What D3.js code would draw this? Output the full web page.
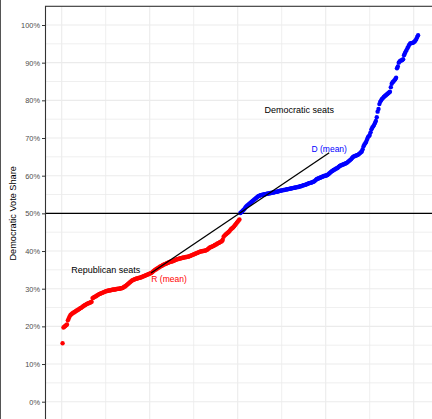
<!DOCTYPE html>
<html>
<head>
<meta charset="utf-8">
<script src="https://cdn.jsdelivr.net/npm/d3@7/dist/d3.min.js"></script>
<style>
  html, body { margin: 0; padding: 0; background: #ffffff; }
  svg { display: block; font-family: "Liberation Sans", Arial, Helvetica, sans-serif; }
</style>
</head>
<body>
<svg id="chart" width="432" height="419"></svg>
<script>
// Democratic vote share (%) in seats won by Republicans, sorted ascending
const republicanSeats = [
  15.5, 19.7, 19.9, 20.1, 20.3, 20.5, 21.6, 22.1, 22.6, 23.0,
  23.2, 23.4, 23.6, 23.7, 23.9, 24.0, 24.2, 24.3, 24.5, 24.6,
  24.8, 24.9, 25.1, 25.3, 25.4, 25.6, 25.7, 25.9, 26.0, 26.1,
  26.2, 26.3, 26.4, 26.5, 27.5, 27.6, 27.8, 27.9, 28.0, 28.2,
  28.3, 28.5, 28.6, 28.7, 28.8, 28.9, 29.0, 29.1, 29.2, 29.3,
  29.4, 29.4, 29.5, 29.5, 29.6, 29.6, 29.7, 29.7, 29.8, 29.8,
  29.8, 29.9, 29.9, 30.0, 30.0, 30.0, 30.1, 30.1, 30.2, 30.3,
  30.5, 30.6, 30.8, 31.0, 31.2, 31.4, 31.6, 31.8, 32.0, 32.2,
  32.3, 32.4, 32.5, 32.6, 32.7, 32.7, 32.8, 32.9, 32.9, 33.0,
  33.1, 33.2, 33.3, 33.4, 33.5, 33.6, 33.7, 33.8, 33.9, 34.0,
  34.1, 34.2, 34.4, 34.6, 34.8, 35.0, 35.1, 35.3, 35.4, 35.6,
  35.7, 35.9, 36.0, 36.1, 36.3, 36.4, 36.5, 36.6, 36.7, 36.8,
  36.9, 37.0, 37.1, 37.2, 37.2, 37.3, 37.4, 37.5, 37.6, 37.7,
  37.8, 37.9, 37.9, 38.0, 38.1, 38.1, 38.2, 38.2, 38.3, 38.3,
  38.4, 38.4, 38.5, 38.5, 38.6, 38.7, 38.8, 38.9, 39.0, 39.1,
  39.2, 39.3, 39.4, 39.5, 39.6, 39.7, 39.8, 39.9, 39.9, 40.0,
  40.0, 40.1, 40.1, 40.2, 40.3, 40.5, 40.7, 40.9, 41.0, 41.1,
  41.2, 41.3, 41.4, 41.6, 41.7, 41.8, 42.0, 42.1, 42.2, 42.4,
  42.5, 42.6, 43.0, 43.8, 44.1, 44.3, 44.5, 44.7, 44.9, 45.1,
  45.4, 45.7, 45.9, 46.1, 46.3, 46.6, 46.9, 47.2, 47.5, 47.8,
  48.1, 48.4
];

// Democratic vote share (%) in seats won by Democrats, sorted ascending
const democraticSeats = [
  50.1, 50.3, 50.5, 50.8, 51.0, 51.3, 51.6, 51.9,
  52.1, 52.3, 52.5, 52.7, 52.9, 53.1, 53.3, 53.5, 53.7, 53.9,
  54.1, 54.3, 54.5, 54.6, 54.7, 54.8, 54.9, 54.9, 55.0, 55.0,
  55.1, 55.1, 55.2, 55.2, 55.3, 55.3, 55.4, 55.4, 55.5, 55.5,
  55.6, 55.6, 55.7, 55.7, 55.8, 55.8, 55.9, 56.0, 56.0, 56.1,
  56.1, 56.2, 56.2, 56.3, 56.3, 56.4, 56.4, 56.5, 56.5, 56.6,
  56.6, 56.7, 56.7, 56.8, 56.8, 56.9, 56.9, 57.0, 57.0, 57.1,
  57.2, 57.2, 57.3, 57.4, 57.5, 57.5, 57.6, 57.7, 57.8, 57.9,
  58.0, 58.1, 58.1, 58.2, 58.3, 58.4, 58.5, 58.7, 58.9, 59.1,
  59.2, 59.3, 59.4, 59.5, 59.6, 59.7, 59.8, 59.9, 60.0, 60.0,
  60.1, 60.2, 60.4, 60.6, 60.8, 61.0, 61.2, 61.3, 61.5, 61.6,
  61.8, 61.9, 62.0, 62.2, 62.4, 62.6, 62.7, 62.8, 62.9, 63.0,
  63.1, 63.2, 63.3, 63.4, 63.6, 63.8, 64.0, 64.2, 64.4, 64.7,
  65.0, 65.1, 65.2, 65.3, 65.4, 65.5, 65.6, 65.8, 66.0, 66.2,
  66.4, 67.0, 67.8, 68.3, 68.6, 69.0, 69.6, 70.2, 70.5, 70.8,
  71.5, 72.3, 72.8, 73.1, 73.5, 74.0, 74.5, 75.5, 77.0, 77.7,
  79.0, 79.6, 80.0, 80.4, 80.6, 80.9, 81.1, 81.3, 81.5, 81.7,
  81.9, 82.1, 82.3, 83.5, 84.4, 84.8, 85.0, 85.3, 85.6, 86.0,
  88.5, 89.0, 90.0, 90.3, 90.5, 90.6, 90.7, 90.9, 92.0, 92.5,
  93.0, 93.4, 93.9, 94.3, 94.8, 95.1, 95.2, 95.2, 95.3, 95.4,
  95.6, 95.9, 96.3, 96.8, 97.3
];

// Axis breaks and labels
const yBreaks = [0, 0.1, 0.2, 0.3, 0.4, 0.5, 0.6, 0.7, 0.8, 0.9, 1.0];
const yTickLabels = ["0%", "10%", "20%", "30%", "40%", "50%", "60%", "70%", "80%", "90%", "100%"];
const yMinorBreaks = [0.05, 0.15, 0.25, 0.35, 0.45, 0.55, 0.65, 0.75, 0.85, 0.95];
const xBreaks = [0, 100, 200, 300, 400];
const xMinorBreaks = [50, 150, 250, 350];
const yTitle = "Democratic Vote Share";

// Text annotations placed in data space (seat rank, vote share)
const groupLabels = [
  { text: "Republican seats", rank: 50, share: 0.35 },
  { text: "Democratic seats", rank: 270, share: 0.775 }
];

const W = 432, H = 419;
const panel = { left: 45, top: 6.3, right: 437, bottom: 421 };

// Every seat, ranked by Democratic share
const seats = [];
republicanSeats.forEach((v, i) => seats.push({ rank: i + 1, share: v / 100, party: "R" }));
democraticSeats.forEach((v, i) => seats.push({ rank: republicanSeats.length + i + 1, share: v / 100, party: "D" }));

const x = d3.scaleLinear().domain([0, 400]).range([61.7, 413.7]);
const y = d3.scaleLinear().domain([0, 1]).range([401.7, 25]);

const partyColor = { R: "#ff0000", D: "#0000ff" };

const svg = d3.select("#chart");
svg.append("rect").attr("width", W).attr("height", H).attr("fill", "#ffffff");

// Outer frame edge at the far left
svg.append("line")
  .attr("x1", 0.5).attr("x2", 0.5).attr("y1", 0).attr("y2", H)
  .attr("stroke", "#555555").attr("stroke-width", 1);

svg.append("defs").append("clipPath").attr("id", "panelClip")
  .append("rect")
  .attr("x", panel.left).attr("y", panel.top)
  .attr("width", panel.right - panel.left).attr("height", panel.bottom - panel.top);

const g = svg.append("g").attr("clip-path", "url(#panelClip)");

// Grid
const grid = g.append("g").attr("stroke", "#ebebeb").attr("fill", "none");
grid.selectAll("line.ymin").data(yMinorBreaks).join("line").attr("class", "ymin")
  .attr("x1", panel.left).attr("x2", panel.right)
  .attr("y1", d => y(d)).attr("y2", d => y(d)).attr("stroke-width", 0.8);
grid.selectAll("line.xmin").data(xMinorBreaks).join("line").attr("class", "xmin")
  .attr("y1", panel.top).attr("y2", panel.bottom)
  .attr("x1", d => x(d)).attr("x2", d => x(d)).attr("stroke-width", 0.8);
grid.selectAll("line.ymaj").data(yBreaks).join("line").attr("class", "ymaj")
  .attr("x1", panel.left).attr("x2", panel.right)
  .attr("y1", d => y(d)).attr("y2", d => y(d)).attr("stroke-width", 1.1);
grid.selectAll("line.xmaj").data(xBreaks).join("line").attr("class", "xmaj")
  .attr("y1", panel.top).attr("y2", panel.bottom)
  .attr("x1", d => x(d)).attr("x2", d => x(d)).attr("stroke-width", 1.1);

// 50% threshold
g.append("line")
  .attr("x1", panel.left).attr("x2", panel.right)
  .attr("y1", y(0.5)).attr("y2", y(0.5))
  .attr("stroke", "#000000").attr("stroke-width", 1.1);

// Seats
g.append("g").selectAll("circle").data(seats).join("circle")
  .attr("cx", d => x(d.rank))
  .attr("cy", d => y(d.share))
  .attr("r", 2.2)
  .attr("fill", d => partyColor[d.party]);

// Mean share of each party's seats, placed at the group's middle rank
const groups = ["R", "D"].map(p => {
  const s = seats.filter(d => d.party === p);
  return { party: p, rank: d3.median(s, d => d.rank), share: d3.mean(s, d => d.share) };
});
const rMean = groups[0], dMean = groups[1];

g.append("line")
  .attr("x1", x(rMean.rank)).attr("y1", y(rMean.share))
  .attr("x2", x(dMean.rank)).attr("y2", y(dMean.share))
  .attr("stroke", "#000000").attr("stroke-width", 1.3);

g.append("text")
  .attr("x", x(rMean.rank) + 18).attr("y", y(rMean.share) + 9.5)
  .attr("text-anchor", "middle")
  .attr("font-size", 8.5).attr("fill", partyColor.R)
  .text("R (mean)");

g.append("text")
  .attr("x", x(dMean.rank)).attr("y", y(dMean.share) - 1)
  .attr("text-anchor", "middle")
  .attr("font-size", 8.5).attr("fill", partyColor.D)
  .text("D (mean)");

g.selectAll("text.grp").data(groupLabels).join("text").attr("class", "grp")
  .attr("x", d => x(d.rank)).attr("y", d => y(d.share) + 3.2)
  .attr("text-anchor", "middle")
  .attr("font-size", 9).attr("fill", "#000000")
  .text(d => d.text);

// Panel border (left and top edges are the visible ones)
svg.append("rect")
  .attr("x", panel.left + 0.5).attr("y", panel.top)
  .attr("width", panel.right - panel.left).attr("height", panel.bottom - panel.top)
  .attr("fill", "none").attr("stroke", "#333333").attr("stroke-width", 1.1);

// Y axis
const yAxis = d3.axisLeft(y).tickValues(yBreaks)
  .tickFormat((d, i) => yTickLabels[i]).tickSize(3).tickPadding(2);
const ya = svg.append("g").attr("transform", `translate(${panel.left},0)`).call(yAxis);
ya.select(".domain").remove();
ya.selectAll(".tick line").attr("stroke", "#333333");
ya.selectAll(".tick text").attr("fill", "#4d4d4d").attr("font-size", 7.4)
  .attr("font-family", "Liberation Sans, Arial, sans-serif");

svg.append("text")
  .attr("transform", `translate(13.5, ${y(0.5)}) rotate(-90)`)
  .attr("text-anchor", "middle").attr("dominant-baseline", "middle")
  .attr("font-size", 9.2).attr("fill", "#000000")
  .text(yTitle);
</script>
</body>
</html>
